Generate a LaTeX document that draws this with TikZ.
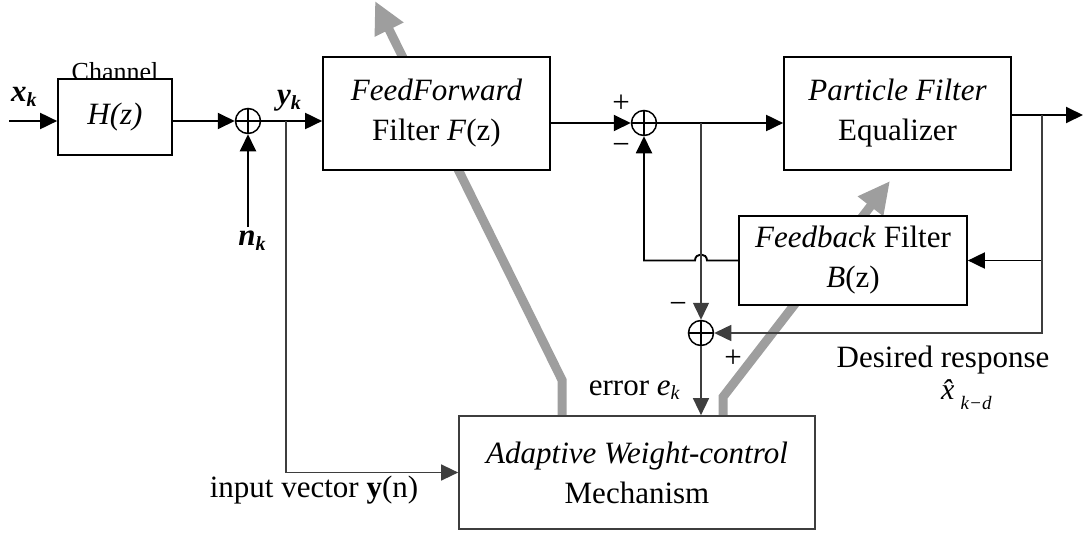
\documentclass[tikz,border=0pt]{standalone}
\usepackage{fontspec}
\setmainfont{Liberation Serif}
\usetikzlibrary{arrows.meta,calc}
\definecolor{band}{RGB}{158,158,158}
\definecolor{wire}{RGB}{62,62,62}
% lowered index for signal names
\newcommand\lowidx[1]{\raisebox{-0.35ex}{\fontsize{20}{20}\selectfont #1}}
\begin{document}
\begin{tikzpicture}[x=1pt,y=-1pt,
  font=\fontsize{31}{40}\selectfont,
  block/.style={draw,line width=1.7pt,fill=white,inner sep=0pt,align=center},
  summer/.style={circle,draw,line width=1.5pt,minimum size=25pt,inner sep=0pt,
    path picture={\draw[line width=1.3pt]
      (path picture bounding box.north) -- (path picture bounding box.south)
      (path picture bounding box.west) -- (path picture bounding box.east);}},
  sig/.style={line width=1.9pt,-{Triangle[length=17pt,width=16pt]}},
  sigw/.style={draw=wire,line width=1.5pt,-{Triangle[length=17pt,width=16pt]}},
  wireline/.style={draw=wire,line width=1.5pt},
  bandline/.style={draw=band,line width=9pt,line join=miter,
    -{Triangle[length=32pt,width=30pt]}},
  lbl/.style={inner sep=0pt}]
\useasboundingbox (0,0) rectangle (1085,533);

% adaptation paths (drawn beneath the blocks)
\coordinate (bandAstart) at (562,416);
\coordinate (bandAbend) at (562,380);
\coordinate (bandAtip) at (375,1);
\coordinate (bandBstart) at (723,416);
\coordinate (bandBbend) at (723,397);
\coordinate (bandBtip) at (890,181);
\draw[bandline] (bandAstart) -- (bandAbend) -- (bandAtip);
\draw[bandline] (bandBstart) -- (bandBbend) -- (bandBtip);

% channel
\node[lbl,anchor=base] (chanlbl) at (115,80) {\fontsize{26}{26}\selectfont Channel};
\node[block,minimum width=114pt,minimum height=76pt] (chan) at (115,117) {\textit{H(z)}};

% blocks
\node[block,minimum width=227pt,minimum height=113pt] (ff) at (436.5,113.5)
  {\textit{FeedForward}\\Filter \textit{F}(z)};
\node[block,minimum width=227pt,minimum height=113pt] (pf) at (897.5,113.5)
  {\textit{Particle Filter}\\Equalizer};
\node[block,minimum width=228pt,minimum height=89pt] (fb) at (853,260.5)
  {\textit{Feedback} Filter\\\textit{B}(z)};
\node[block,draw=wire,minimum width=356pt,minimum height=113pt] (aw) at (637,472.5)
  {\textit{Adaptive Weight-control}\\Mechanism};

% summing junctions
\node[summer] (s1) at (248,121) {};
\node[summer] (s2) at (644,123) {};
\node[summer] (s3) at (701,333) {};

% terminals and branch points
\coordinate (xin) at (9,121);
\coordinate (nin) at (248,227);
\coordinate (tapY) at (286,121);
\coordinate (tapE) at (701,123);
\coordinate (tapO) at (1042,115);
\coordinate (xout) at (1083,115);

% forward path
\draw[sig] (xin) -- (chan.west |- xin);
\draw[sig] (chan.east |- s1) -- (s1.west);
\draw[sig] (nin) -- (s1.south);
\draw[sig] (s1.east) -- (ff.west |- s1);
\draw[sig] (ff.east |- s2) -- (s2.west);
\draw[sig] (s2.east) -- (pf.west |- s2);
\draw[sig] (pf.east |- xout) -- (xout);

% feedback path with a hop over the error tap
\draw[sig] (fb.west) -- ($(tapE |- fb.west)+(6,0)$)
  .. controls +(0,-8) and +(0,-8) .. ($(tapE |- fb.west)+(-6,0)$)
  -- (s2 |- fb.west) -- (s2.south);
\draw[sig] (tapO |- fb.east) -- (fb.east);

% error computation and adaptation inputs
\draw[wireline] (tapO) -- (tapO |- fb.east);
\draw[sigw] (tapO |- fb.east) -- (tapO |- s3) -- (s3.east);
\draw[sigw] (tapE) -- (s3.north);
\draw[sigw] (s3.south) -- (aw.north -| s3);
\draw[sigw] (tapY) -- (tapY |- aw.west) -- (aw.west);

% labels
\node[lbl] (lx) at (24,97) {\textbf{\textit{x}}\lowidx{\textbf{\textit{k}}}};
\node[lbl] (ly) at (289,101) {\textbf{\textit{y}}\lowidx{\textbf{\textit{k}}}};
\node[lbl] (ln) at (252,241) {\textbf{\textit{n}}\lowidx{\textbf{\textit{k}}}};
\node[lbl] (pl2) at (621,104) {+};
\node[lbl] (mi2) at (621,149) {−};
\node[lbl] (mi3) at (678,308) {−};
\node[lbl] (pl3) at (733,359) {+};
\node[lbl,anchor=base east] (le) at (680,395) {error \textit{e}\lowidx{\textit{k}}};
\node[lbl,anchor=base] (lyn) at (314,497) {input vector \textbf{y}(n)};
\node[lbl,anchor=base] (ldr) at (943,367) {Desired response};
\node[lbl,anchor=base west] (lxh) at (941,399)
  {\fontsize{30}{30}\selectfont\textit{\^x}\kern-5pt\raisebox{-10pt}{\fontsize{19}{19}\selectfont\textit{k}\kern1pt−\kern1pt\textit{d}}};
\end{tikzpicture}
\end{document}
